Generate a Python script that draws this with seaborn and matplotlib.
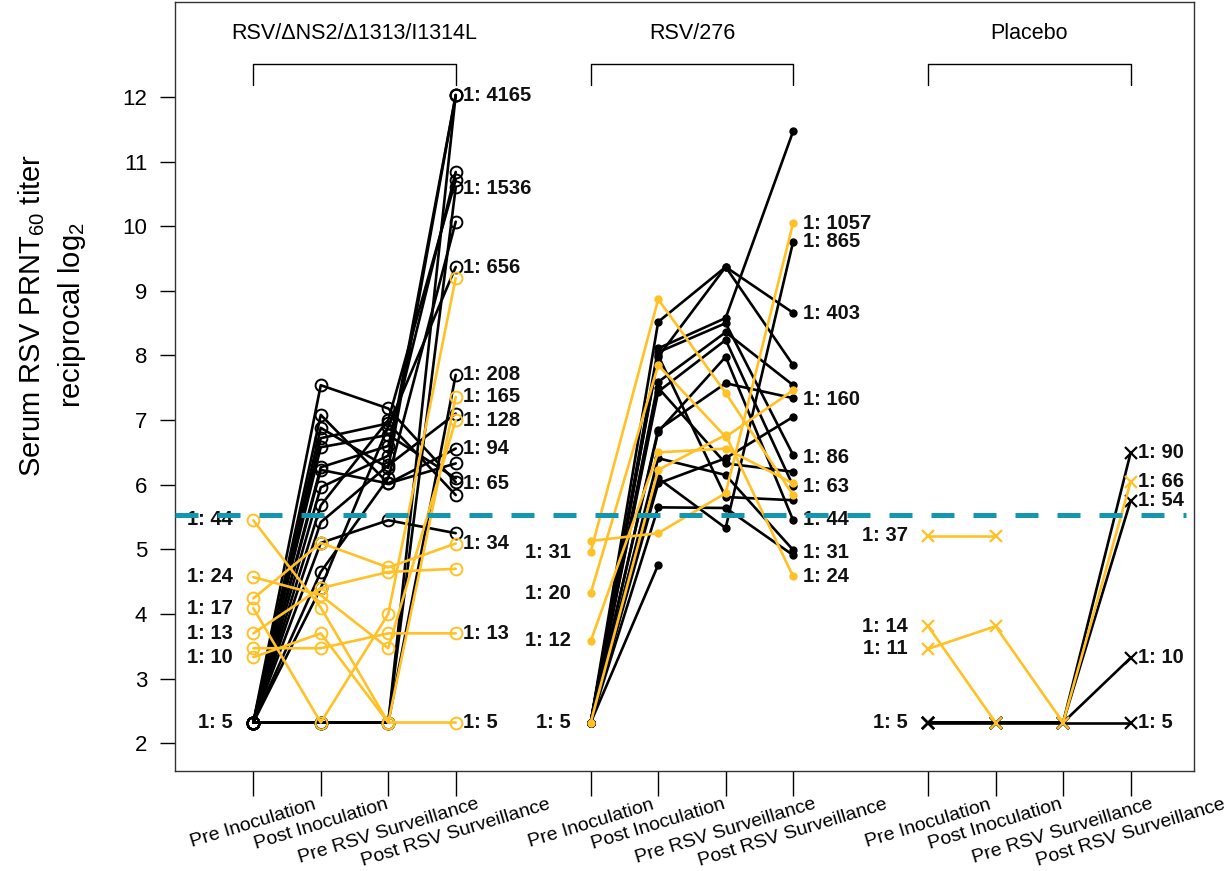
import numpy as np
import pandas as pd
import matplotlib.pyplot as plt
import seaborn as sns

# visits and study groups
visits = ["Pre Inoculation", "Post Inoculation", "Pre RSV Surveillance", "Post RSV Surveillance"]
groups = ["RSV/ΔNS2/Δ1313/I1314L", "RSV/276", "Placebo"]
group_start = [0, 5, 10]
nan = np.nan

# reciprocal log2 titers per subject (pre, post, pre RSV, post RSV)
ns2_black = [
    [2.32, 7.54, 7.18, 6.04],
    [2.32, 7.08, 6.02, 6.56],
    [2.32, 6.88, 6.26, 12.03],
    [2.32, 6.72, 6.95, 5.84],
    [2.32, 6.58, 6.77, 6.10],
    [2.32, 6.27, 6.60, 10.84],
    [2.32, 6.23, 6.02, 6.33],
    [2.32, 5.96, 6.45, 12.03],
    [2.32, 5.68, 7.00, 10.72],
    [2.32, 5.42, 6.30, 7.10],
    [2.32, 5.10, 5.45, 5.25],
    [2.32, 4.65, 6.10, 10.07],
    [2.32, 4.40, 6.90, 9.37],
    [2.32, 2.32, 2.32, 12.03],
    [2.32, 2.32, 2.32, 10.60],
    [2.32, 2.32, 2.32, 7.70],
]
ns2_orange = [
    [5.45, 4.10, 2.32, 2.32],
    [4.57, 4.29, 3.47, 7.00],
    [4.24, 5.10, 4.72, 5.09],
    [4.09, 2.32, 4.00, 9.20],
    [3.70, 4.40, 4.65, 4.70],
    [3.47, 3.47, 3.70, 3.70],
    [3.33, 3.70, 2.32, 7.36],
]
r276_black = [
    [2.32, 8.52, 9.37, 8.66],
    [2.32, 7.98, 9.37, 7.85],
    [2.32, 8.11, 8.58, 11.47],
    [2.32, 8.05, 8.50, 6.46],
    [2.32, 7.59, 8.36, 7.54],
    [2.32, 7.44, 8.24, 5.98],
    [2.32, 6.85, 7.57, 7.34],
    [2.32, 6.82, 7.98, 5.45],
    [2.32, 6.41, 6.15, 4.99],
    [2.32, 6.02, 6.41, 7.05],
    [2.32, 5.65, 5.64, 4.91],
    [2.32, 6.10, 5.33, 9.76],
    [2.32, 7.50, 6.33, 6.20],
    [2.32, 8.00, 5.81, 5.76],
    [2.32, 4.76, nan, nan],
]
r276_orange = [
    [4.96, 8.87, 7.42, 5.84],
    [4.32, 7.85, 6.74, 7.46],
    [3.58, 6.50, 6.56, 6.02],
    [2.32, 6.23, 6.77, 4.58],
    [5.13, 5.25, 5.87, 10.05],
]
placebo_black = [
    [2.32, 2.32, 2.32, 6.49],
    [2.32, 2.32, 2.32, 5.75],
    [2.32, 2.32, 2.32, 3.32],
    [2.32, 2.32, 2.32, 2.32],
]
placebo_orange = [
    [5.21, 5.21, nan, nan],
    [3.46, 3.81, 2.32, 6.04],
    [3.81, 2.32, nan, nan],
]

# titer annotations (1: n) left of first visit / right of last visit
ns2_left = [44, 24, 17, 13, 10, 5]
ns2_right = [4165, 1536, 656, 208, 165, 128, 94, 65, 34, 13, 5]
r276_left = [31, 20, 12, 5]
r276_right = [1057, 865, 403, 160, 86, 63, 44, 31, 24]
placebo_left = [37, 14, 11, 5]
placebo_right = [90, 66, 54, 10, 5]

threshold = 5.53

BLACK = "#000000"
ORANGE = "#FFC125"
TEAL = "#1496AE"

subjects = {
    (0, BLACK): ns2_black, (0, ORANGE): ns2_orange,
    (1, BLACK): r276_black, (1, ORANGE): r276_orange,
    (2, BLACK): placebo_black, (2, ORANGE): placebo_orange,
}
rows = []
for (gi, col), subj in subjects.items():
    for si, vals in enumerate(subj):
        for vi, v in enumerate(vals):
            rows.append({"group": gi, "colour": col, "subject": f"{gi}-{col}-{si}",
                         "x": group_start[gi] + vi, "titer": v})
df = pd.DataFrame(rows).dropna()

sns.set_style("ticks")
plt.rcParams["font.family"] = ["Liberation Sans", "DejaVu Sans"]
plt.rcParams["mathtext.fontset"] = "custom"
plt.rcParams["mathtext.rm"] = "Liberation Sans"
plt.rcParams["mathtext.default"] = "regular"
plt.rcParams["text.color"] = "black"
plt.rcParams["xtick.color"] = "black"
plt.rcParams["ytick.color"] = "black"

fig = plt.figure(figsize=(12.3, 8.71), dpi=100)
ax = fig.add_axes([175 / 1230, 100 / 871, 1019 / 1230, 769 / 871])

marker_kw = {
    0: dict(marker="o", markersize=8.5, mfc="none", mew=1.4),
    1: dict(marker="o", markersize=6, mew=0),
    2: dict(marker="x", markersize=8.5, mew=1.6),
}
for col in [BLACK, ORANGE]:
    for gi in range(3):
        sub = df[(df["group"] == gi) & (df["colour"] == col)]
        kw = dict(marker_kw[gi])
        if gi == 1:
            kw["mfc"] = col
        sns.lineplot(data=sub, x="x", y="titer", units="subject", estimator=None,
                     color=col, lw=1.9, mec=col, legend=False, ax=ax, **kw)

ax.plot([-1.16, 13.82], [threshold, threshold], color=TEAL, lw=3.6,
        dashes=(4.6, 3.8), zorder=5)

# annotations
lab_kw = dict(fontsize=14.5, fontweight="bold", va="center", color="#111111")
for gi, left, right in zip(range(3), [ns2_left, r276_left, placebo_left],
                           [ns2_right, r276_right, placebo_right]):
    x0 = group_start[gi]
    for t in left:
        ax.text(x0 - 0.3, np.log2(t), f"1: {t}", ha="right", **lab_kw)
    for t in right:
        ax.text(x0 + 3 + (0.15 if gi == 1 else 0.11), np.log2(t), f"1: {t}", ha="left", **lab_kw)
    ax.plot([x0, x0, x0 + 3, x0 + 3], [12.19, 12.51, 12.51, 12.19], color="black", lw=1)
    ax.text(x0 + 1.5, 12.99, groups[gi], ha="center", va="center", fontsize=15.5)

ax.set_xlim(-1.16, 13.94)
ax.set_ylim(1.57, 13.47)
xt = [group_start[g] + i for g in range(3) for i in range(4)]
ax.set_xticks(xt)
ax.set_xticklabels(visits * 3, rotation=17, ha="center", va="top", fontsize=14)
ax.set_yticks(range(2, 13))
ax.tick_params(axis="y", labelsize=16, length=11, width=1, pad=9)
ax.tick_params(axis="x", length=18, width=1, pad=0)
ax.set_xlabel("")
ax.set_ylabel("")
for s in ax.spines.values():
    s.set_linewidth(1.0)
    s.set_color("#333333")

fig.text(52 / 1230, 1 - 315 / 871, "Serum RSV PRNT$_{60}$ titer\nreciprocal log$_2$",
         rotation=90, ha="center", va="center", fontsize=21, linespacing=1.35,
         multialignment="center")

plt.savefig("out.png", dpi=100)
